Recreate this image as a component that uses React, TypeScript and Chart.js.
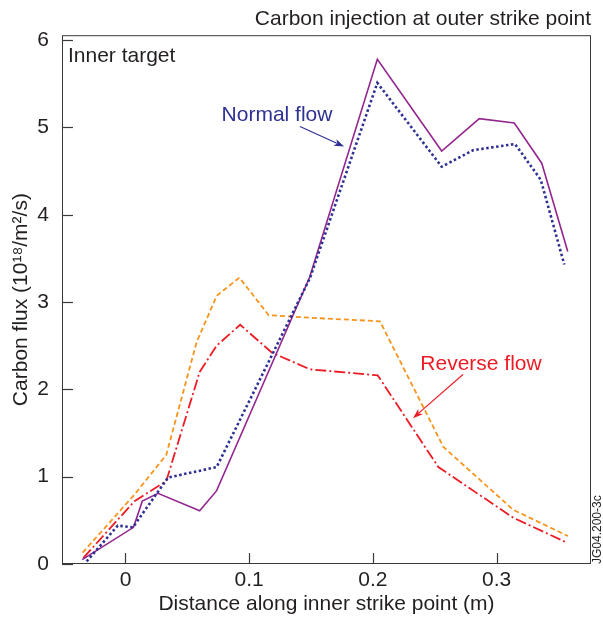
import { useEffect, useRef } from "react";
import { Chart, registerables } from "chart.js";

Chart.register(...registerables);

// Normal flow, solid (purple)
const normalSolidX = [-0.035, 0.0065, 0.0136, 0.0263, 0.06, 0.0737, 0.149, 0.2036, 0.2556, 0.286, 0.3143, 0.3365, 0.3575];
const normalSolidY = [0.05, 0.42, 0.72, 0.81, 0.61, 0.84, 3.29, 5.78, 4.73, 5.1, 5.05, 4.59, 3.58];

// Normal flow, dotted (blue)
const normalDottedX = [-0.0314, -0.0062, 0.006, 0.0344, 0.0737, 0.149, 0.2036, 0.2556, 0.2812, 0.3149, 0.3357, 0.3547];
const normalDottedY = [0.03, 0.44, 0.42, 0.99, 1.11, 3.27, 5.51, 4.55, 4.74, 4.81, 4.4, 3.43];

// Reverse flow, dashed (orange)
const reverseDashedX = [-0.0346, 0.007, 0.033, 0.0575, 0.0737, 0.0921, 0.1157, 0.149, 0.2057, 0.257, 0.3135, 0.3577];
const reverseDashedY = [0.13, 0.79, 1.25, 2.54, 3.07, 3.28, 2.85, 2.82, 2.78, 1.34, 0.62, 0.32];

// Reverse flow, dash-dot (red)
const reverseDashDotX = [-0.034, 0.0073, 0.033, 0.06, 0.0737, 0.0927, 0.1184, 0.149, 0.2039, 0.2529, 0.3135, 0.3559];
const reverseDashDotY = [0.07, 0.72, 0.95, 2.2, 2.5, 2.74, 2.42, 2.23, 2.16, 1.11, 0.53, 0.25];

const xTickValues = [0, 0.1, 0.2, 0.3];
const yTickValues = [0, 1, 2, 3, 4, 5, 6];

const titleText = "Carbon injection at outer strike point";
const xTitleText = "Distance along inner strike point (m)";
const yTitleText = "Carbon flux (10\u00B9\u2078/m\u00B2/s)";
const panelLabel = "Inner target";
const normalLabel = "Normal flow";
const reverseLabel = "Reverse flow";
const figureId = "JG04.200-3c";

const FONT = "'Liberation Sans', Arial, Helvetica, sans-serif";
const INK = "#231f20";
const PURPLE = "#93278f";
const BLUE = "#2e3192";
const ORANGE = "#f7941d";
const RED = "#ed1c24";

function pts(xs: number[], ys: number[]) {
  return xs.map((x, i) => ({ x, y: ys[i] }));
}

function arrow(ctx: CanvasRenderingContext2D, x1: number, y1: number, x2: number, y2: number, color: string) {
  const ang = Math.atan2(y2 - y1, x2 - x1);
  const len = 10;
  const w = 3.5;
  ctx.strokeStyle = color;
  ctx.fillStyle = color;
  ctx.lineWidth = 1.2;
  ctx.beginPath();
  ctx.moveTo(x1, y1);
  ctx.lineTo(x2 - Math.cos(ang) * len * 0.8, y2 - Math.sin(ang) * len * 0.8);
  ctx.stroke();
  ctx.beginPath();
  ctx.moveTo(x2, y2);
  ctx.lineTo(x2 - Math.cos(ang) * len - Math.sin(ang) * w, y2 - Math.sin(ang) * len + Math.cos(ang) * w);
  ctx.lineTo(x2 - Math.cos(ang) * len * 0.75, y2 - Math.sin(ang) * len * 0.75);
  ctx.lineTo(x2 - Math.cos(ang) * len + Math.sin(ang) * w, y2 - Math.sin(ang) * len - Math.cos(ang) * w);
  ctx.closePath();
  ctx.fill();
}

const decorPlugin = {
  id: "decor",
  afterDraw(chart: any) {
    const { ctx, chartArea: a, scales } = chart;
    const xs = scales.x;
    const ys = scales.y;
    ctx.save();
    // frame
    ctx.strokeStyle = "#3a3a3a";
    ctx.lineWidth = 1;
    ctx.strokeRect(a.left + 0.5, a.top + 0.5, a.right - a.left - 1, a.bottom - a.top - 1);
    // inward ticks
    ctx.strokeStyle = "#3a3a3a";
    ctx.lineWidth = 1.2;
    ys.ticks.forEach((t: any) => {
      const py = Math.round(ys.getPixelForValue(t.value)) + 0.5;
      ctx.beginPath();
      ctx.moveTo(a.left, py);
      ctx.lineTo(a.left + 11, py);
      ctx.stroke();
    });
    xs.ticks.forEach((t: any) => {
      const px = Math.round(xs.getPixelForValue(t.value)) + 0.5;
      ctx.beginPath();
      ctx.moveTo(px, a.bottom);
      ctx.lineTo(px, a.bottom - 11);
      ctx.stroke();
    });

    ctx.font = `21px ${FONT}`;
    ctx.textBaseline = "middle";
    // panel label
    ctx.fillStyle = INK;
    ctx.textAlign = "left";
    ctx.fillText(panelLabel, xs.getPixelForValue(-0.0465), ys.getPixelForValue(5.82));
    // normal flow
    ctx.fillStyle = BLUE;
    ctx.textAlign = "center";
    ctx.fillText(normalLabel, xs.getPixelForValue(0.1225), ys.getPixelForValue(5.14));
    arrow(ctx, xs.getPixelForValue(0.1411), ys.getPixelForValue(5.01), xs.getPixelForValue(0.1767), ys.getPixelForValue(4.78), BLUE);
    // reverse flow
    ctx.fillStyle = RED;
    ctx.fillText(reverseLabel, xs.getPixelForValue(0.2874), ys.getPixelForValue(2.29));
    arrow(ctx, xs.getPixelForValue(0.2728), ys.getPixelForValue(2.17), xs.getPixelForValue(0.2324), ys.getPixelForValue(1.67), RED);

    // figure id, vertical
    ctx.save();
    ctx.translate(a.right + 6.5, a.bottom);
    ctx.rotate(-Math.PI / 2);
    ctx.font = `12px ${FONT}`;
    ctx.fillStyle = INK;
    ctx.textAlign = "left";
    ctx.textBaseline = "middle";
    ctx.fillText(figureId, 0, 0);
    ctx.restore();

    ctx.restore();
  },
};

export default function App() {
  const ref = useRef<HTMLCanvasElement | null>(null);

  useEffect(() => {
    if (!ref.current) return;
    const chart = new Chart(ref.current, {
      type: "line",
      data: {
        datasets: [
          {
            label: "Normal flow (dotted)",
            data: pts(normalDottedX, normalDottedY),
            borderColor: BLUE,
            borderWidth: 2.6,
            borderDash: [2.5, 2.5],
            pointRadius: 0,
            fill: false,
          },
          {
            label: "Normal flow (solid)",
            data: pts(normalSolidX, normalSolidY),
            borderColor: PURPLE,
            borderWidth: 1.6,
            pointRadius: 0,
            fill: false,
          },
          {
            label: "Reverse flow (dash-dot)",
            data: pts(reverseDashDotX, reverseDashDotY),
            borderColor: RED,
            borderWidth: 1.8,
            borderDash: [11, 3, 2, 3],
            pointRadius: 0,
            fill: false,
          },
          {
            label: "Reverse flow (dashed)",
            data: pts(reverseDashedX, reverseDashedY),
            borderColor: ORANGE,
            borderWidth: 1.8,
            borderDash: [5, 3],
            pointRadius: 0,
            fill: false,
          },
        ],
      },
      options: {
        animation: false,
        responsive: false,
        devicePixelRatio: 1,
        layout: { padding: { left: 0, right: 12, top: 0, bottom: 0 } },
        elements: { line: { tension: 0 } },
        plugins: {
          legend: { display: false },
          tooltip: { enabled: false },
          title: {
            display: true,
            text: titleText,
            align: "end",
            color: INK,
            font: { family: FONT, size: 21, weight: "normal" },
            padding: { top: 7, bottom: 3 },
          },
        },
        scales: {
          x: {
            type: "linear",
            min: -0.0513,
            max: 0.3763,
            afterBuildTicks: (s: any) => {
              s.ticks = xTickValues.map((v) => ({ value: v }));
            },
            afterFit: (s: any) => {
              s.height = 55;
            },
            grid: { display: false },
            border: { display: false },
            ticks: {
              color: INK,
              padding: -4,
              font: { family: FONT, size: 21 },
              callback: (v: any) => String(v),
            },
            title: {
              display: true,
              text: xTitleText,
              color: INK,
              font: { family: FONT, size: 21 },
              padding: { top: 0, bottom: 2 },
            },
          },
          y: {
            type: "linear",
            min: 0,
            max: 6.056,
            afterBuildTicks: (s: any) => {
              s.ticks = yTickValues.map((v) => ({ value: v }));
            },
            afterFit: (s: any) => {
              s.width = 62;
            },
            grid: { display: false },
            border: { display: false },
            ticks: {
              color: INK,
              padding: 5,
              font: { family: FONT, size: 21 },
              callback: (v: any) => String(v),
            },
            title: {
              display: true,
              text: yTitleText,
              color: INK,
              font: { family: FONT, size: 21 },
              padding: { top: 9, bottom: 0 },
            },
          },
        },
      },
      plugins: [decorPlugin],
    });
    return () => chart.destroy();
  }, []);

  return (
    <div style={{ position: "absolute", left: 0, top: 0, width: 603, height: 619, background: "#fff" }}>
      <canvas ref={ref} width={603} height={619} style={{ width: 603, height: 619, display: "block" }} />
    </div>
  );
}
